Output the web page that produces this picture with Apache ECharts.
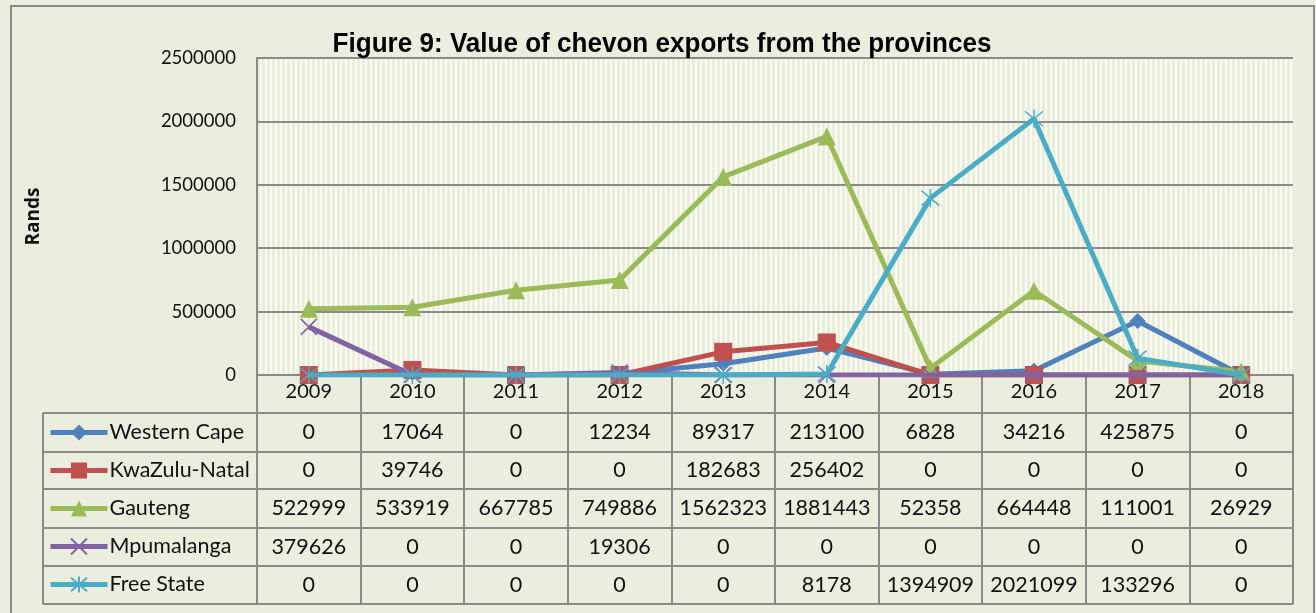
<!DOCTYPE html>
<html><head><meta charset="utf-8">
<script src="https://cdn.jsdelivr.net/npm/echarts@6/dist/echarts.min.js"></script>
<style>html,body{margin:0;padding:0;background:#EBEEDE}#c{width:1316px;height:613px}</style>
</head><body><div id="c"></div>
<script>
const years = ['2009','2010','2011','2012','2013','2014','2015','2016','2017','2018'];
const yTicks = [0, 500000, 1000000, 1500000, 2000000, 2500000];
const westernCape = [0,17064,0,12234,89317,213100,6828,34216,425875,0];
const kwaZuluNatal = [0,39746,0,0,182683,256402,0,0,0,0];
const gauteng = [522999,533919,667785,749886,1562323,1881443,52358,664448,111001,26929];
const mpumalanga = [379626,0,0,19306,0,0,0,0,0,0];
const freeState = [0,0,0,0,0,8178,1394909,2021099,133296,0];
const seriesNames = ['Western Cape','KwaZulu-Natal','Gauteng','Mpumalanga','Free State'];
const seriesData = [westernCape,kwaZuluNatal,gauteng,mpumalanga,freeState];
const colors = ['#4F81BD','#C0504D','#9BBB59','#8064A2','#4BACC6'];
const symbols = ['diamond','rect','triangle',
  'path://M0,0 L10,10 M10,0 L0,10',
  'path://M0,0 L10,10 M10,0 L0,10 M5,-1 L5,11'];
const symbolSizes = [16,18,18,16,18];

// stripe pattern for plot area
const pc = document.createElement('canvas');
pc.width = 5; pc.height = 4;
const px = pc.getContext('2d');
px.fillStyle = '#EAEEDB'; px.fillRect(0,0,5,4);
px.fillStyle = '#FAFBF5'; px.fillRect(0,0,2,4);

const chart = echarts.init(document.getElementById('c'), null, {renderer:'canvas'});
const plotTop = 58, plotBottom = 375, plotLeft = 257, plotRight = 1293;
const rowCenters = [432.5, 470.5, 508.5, 547, 585];
const gridColor = '#8A8A8A';
const font = 'Lato, "Open Sans", sans-serif';

const tableAxes = seriesData.map((d, i) => ({
  type: 'category', data: years, gridIndex: 0, position: 'bottom',
  offset: rowCenters[i] - plotBottom,
  axisLine: {show: false}, axisTick: {show: false},
  axisLabel: {interval: 0, margin: 0, verticalAlign: 'middle', fontSize: 21.5, color: '#111', fontFamily: font,
    formatter: (v, idx) => String(d[idx])}
}));

const tableLines = [413, 452, 489, 528, 566, 604].map(y => ({
  type: 'line', shape: {x1: 43, y1: y, x2: plotRight, y2: y},
  style: {stroke: gridColor, lineWidth: 2}, z: 5
}));

chart.setOption({
  backgroundColor: '#EBEEDE',
  animation: false,
  legend: {
    orient: 'vertical', left: 48, top: rowCenters[0] - 11, padding: 0,
    itemWidth: 57, itemHeight: 20, itemGap: 16,
    lineStyle: {width: 5},
    textStyle: {fontSize: 21.5, lineHeight: 22, color: '#111', fontFamily: font, padding: [0,0,0,-3]},
    data: seriesNames
  },
  grid: {
    left: plotLeft, right: 1316 - plotRight, top: plotTop, bottom: 613 - plotBottom,
    show: true, borderWidth: 0,
    backgroundColor: {image: pc, repeat: 'repeat'}
  },
  xAxis: [{
    type: 'category', data: years, boundaryGap: true,
    axisLine: {lineStyle: {color: gridColor, width: 2}},
    axisTick: {show: true, interval: 0, length: 604 - plotBottom, lineStyle: {color: gridColor, width: 2}},
    axisLabel: {interval: 0, margin: 7, fontSize: 20, color: '#111', fontFamily: font}
  }].concat(tableAxes),
  yAxis: {
    type: 'value', min: yTicks[0], max: yTicks[yTicks.length - 1], interval: yTicks[1] - yTicks[0],
    name: 'Rands', nameLocation: 'middle', nameGap: 214, nameRotate: 90,
    nameTextStyle: {fontSize: 19, fontWeight: 700, color: '#111', fontFamily: '"Open Sans", Lato, sans-serif'},
    axisLine: {show: true, lineStyle: {color: gridColor, width: 2}},
    axisTick: {show: false},
    splitLine: {lineStyle: {color: gridColor, width: 2}},
    axisLabel: {margin: 21, fontSize: 18.5, color: '#111', fontFamily: font, formatter: v => String(v)}
  },
  graphic: [
    {type: 'rect', shape: {x: 11, y: 6, width: 1303, height: 640},
     style: {fill: 'none', stroke: '#8C8C8C', lineWidth: 2}, z: 10},
    {type: 'line', shape: {x1: 43, y1: 413, x2: 43, y2: 604},
     style: {stroke: gridColor, lineWidth: 2}, z: 5},
    {type: 'text', x: 662, y: 45, scaleX: 0.965, z: 20,
     style: {text: 'Figure 9: Value of chevon exports from the provinces', align: 'center', verticalAlign: 'middle',
       font: 'bold 27px "Liberation Sans", Arial, sans-serif', fill: '#000'}}
  ].concat(tableLines),
  series: seriesData.map((d, i) => ({
    name: seriesNames[i], type: 'line', data: d,
    symbol: symbols[i], symbolSize: symbolSizes[i],
    lineStyle: {color: colors[i], width: 5},
    itemStyle: {color: colors[i], borderColor: colors[i], borderWidth: i >= 3 ? 1.5 : 0},
    z: 3 + i
  }))
});
</script>
</body></html>
